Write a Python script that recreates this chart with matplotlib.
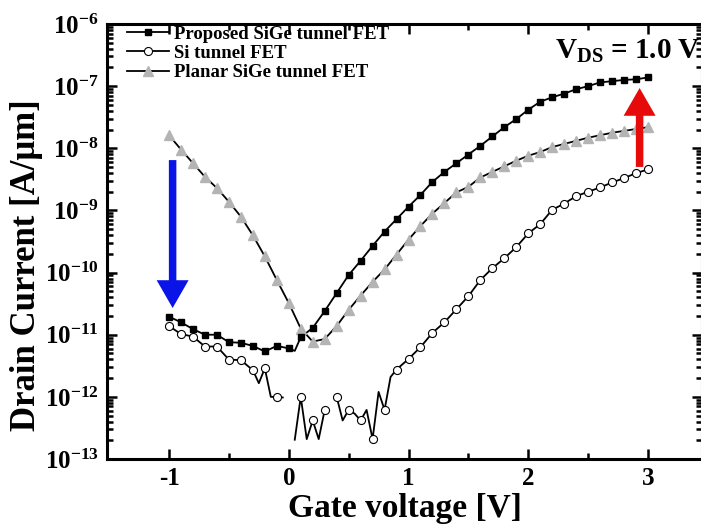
import numpy as np
import matplotlib
matplotlib.use("Agg")
import matplotlib.pyplot as plt

plt.rcParams['font.family'] = ['Liberation Serif', 'DejaVu Serif']
plt.rcParams['font.weight'] = 'bold'
plt.rcParams['mathtext.fontset'] = 'custom'
plt.rcParams['mathtext.rm'] = 'Liberation Serif:bold'
plt.rcParams['mathtext.bf'] = 'Liberation Serif:bold'
plt.rcParams['mathtext.it'] = 'Liberation Serif:bold'
plt.rcParams['axes.unicode_minus'] = False

# ---------------- data (log10 of drain current, A/um) ----------------
prop_v = [-1.0, -0.9, -0.8, -0.7, -0.6, -0.5, -0.4, -0.3, -0.2, -0.1, 0.0, 0.05,
          0.1, 0.2, 0.3, 0.4, 0.5, 0.6, 0.7, 0.8, 0.9, 1.0, 1.1, 1.2, 1.3, 1.4,
          1.5, 1.6, 1.7, 1.8, 1.9, 2.0, 2.1, 2.2, 2.3, 2.4, 2.5, 2.6, 2.7, 2.8,
          2.9, 3.0]
prop_log = [-10.71, -10.80, -10.91, -11.00, -11.00, -11.12, -11.13, -11.18, -11.27,
            -11.18, -11.22, -11.26, -11.04, -10.89, -10.62, -10.33, -10.04, -9.81,
            -9.57, -9.34, -9.14, -8.94, -8.75, -8.54, -8.38, -8.24, -8.10, -7.96,
            -7.81, -7.66, -7.53, -7.38, -7.25, -7.18, -7.12, -7.05, -7.00, -6.94,
            -6.92, -6.90, -6.89, -6.86]
prop_marked = [True] * 11 + [False] + [True] * 30

si_v = [-1.0, -0.9, -0.8, -0.7, -0.6, -0.5, -0.4, -0.3, -0.25, -0.2, -0.15, -0.1,
        -0.05, 0.0, 0.05, 0.1, 0.15, 0.2, 0.25, 0.3, 0.35, 0.4, 0.45, 0.5, 0.55,
        0.6, 0.65, 0.7, 0.75, 0.8, 0.85, 0.9, 1.0, 1.1, 1.2, 1.3, 1.4, 1.5, 1.6,
        1.7, 1.8, 1.9, 2.0, 2.1, 2.2, 2.3, 2.4, 2.5, 2.6, 2.7, 2.8, 2.9, 3.0]
si_log = [-10.86, -10.99, -11.03, -11.19, -11.19, -11.40, -11.41, -11.57, -11.78,
          -11.54, -12.00, -12.00, -12.01, np.nan, -12.69, -12.00, -12.68, -12.38,
          -12.68, -12.21, np.nan, -12.00, -12.38, -12.21, -12.27, -12.38, -12.21,
          -12.68, -11.92, -12.21, -11.68, -11.56, -11.39, -11.20, -10.97, -10.80,
          -10.59, -10.38, -10.12, -9.93, -9.77, -9.59, -9.37, -9.22, -8.99, -8.89,
          -8.77, -8.70, -8.63, -8.55, -8.48, -8.40, -8.34]
si_marked = [True, True, True, True, True, True, True, True, False, True, False, True,
             False, False, False, True, False, True, False, True, False, True, False,
             True, False, True, False, True, False, True, False, True, True, True,
             True, True, True, True, True, True, True, True, True, True, True, True,
             True, True, True, True, True, True, True]

planar_v = [-1.0, -0.9, -0.8, -0.7, -0.6, -0.5, -0.4, -0.3, -0.2, -0.1, 0.0, 0.1,
            0.2, 0.3, 0.4, 0.5, 0.6, 0.7, 0.8, 0.9, 1.0, 1.1, 1.2, 1.3, 1.4, 1.5,
            1.6, 1.7, 1.8, 1.9, 2.0, 2.1, 2.2, 2.3, 2.4, 2.5, 2.6, 2.7, 2.8, 2.9, 3.0]
planar_log = [-7.79, -8.02, -8.24, -8.46, -8.64, -8.86, -9.10, -9.40, -9.74, -10.12,
              -10.49, -10.90, -11.11, -11.07, -10.86, -10.60, -10.37, -10.15, -9.95,
              -9.71, -9.47, -9.25, -9.05, -8.88, -8.71, -8.62, -8.47, -8.38, -8.29,
              -8.20, -8.12, -8.06, -7.98, -7.93, -7.88, -7.83, -7.79, -7.75, -7.72,
              -7.69, -7.66]

labels = ["Proposed SiGe tunnel FET", "Si tunnel FET", "Planar SiGe tunnel FET"]
x_ticks = [-1, 0, 1, 2, 3]
y_exps = [-13, -12, -11, -10, -9, -8, -7, -6]

# arrows: (x, log start, log end)
blue_arrow = (-0.97, -8.19, -10.57)
red_arrow = (2.93, -8.30, -7.03)

# ---------------- figure ----------------
fig = plt.figure(figsize=(7.01, 5.30), dpi=100)
ax = fig.add_axes([107 / 701, 71 / 530, 595 / 701, 435 / 530])

pv = np.array(prop_v); pi = 10.0 ** np.array(prop_log)
sv = np.array(si_v); si = 10.0 ** np.array(si_log)
qv = np.array(planar_v); qi = 10.0 ** np.array(planar_log)

SQ = dict(marker='s', ms=4.8, mfc='black', mec='black')
CI = dict(marker='o', ms=5.8, mfc='white', mec='black', mew=0.8)
TR = dict(marker='^', ms=7.2, mfc='#b4b4b4', mec='#b4b4b4')

# lines
ax.plot(pv, pi, color='black', lw=1.3, zorder=3)
ax.plot(sv, si, color='black', lw=1.3, zorder=3)
ax.plot(qv, qi, color='black', lw=1.3, zorder=2)
# markers
pidx = [i for i, m in enumerate(prop_marked) if m]
sidx = [i for i, m in enumerate(si_marked) if m]
ax.plot(pv[pidx], pi[pidx], ls='none', zorder=4, **SQ)
ax.plot(sv[sidx], si[sidx], ls='none', zorder=4, **CI)
ax.plot(qv, qi, ls='none', zorder=3, **TR)

# legend handles
h1, = ax.plot([], [], color='black', lw=1.3, **SQ)
h2, = ax.plot([], [], color='black', lw=1.3, **CI)
h3, = ax.plot([], [], color='black', lw=1.3, **TR)
leg = ax.legend([h1, h2, h3], labels, loc='upper left', bbox_to_anchor=(0.012, 1.027),
                frameon=False, handlelength=2.2, handletextpad=0.3, labelspacing=0.12,
                borderaxespad=0.3, prop={'family': 'Liberation Serif', 'weight': 'bold', 'size': 13.5})

# arrows
bx, bs, be = blue_arrow
ax.annotate('', xy=(bx, 10 ** be), xytext=(bx, 10 ** bs),
            arrowprops=dict(arrowstyle='simple,head_length=1.0,head_width=1.15,tail_width=0.27',
                            mutation_scale=20, color='#0a14e6', lw=0, shrinkA=0, shrinkB=0),
            zorder=6)
rx, rs, re_ = red_arrow
ax.annotate('', xy=(rx, 10 ** re_), xytext=(rx, 10 ** rs),
            arrowprops=dict(arrowstyle='simple,head_length=1.0,head_width=1.15,tail_width=0.27',
                            mutation_scale=20, color='#e60a0a', lw=0, shrinkA=0, shrinkB=0),
            zorder=6)

# V_DS label
fig.text(0.999, (530 - 59) / 530, r'$\mathbf{V_{DS}}$ = 1.0 V', ha='right', va='baseline',
         fontsize=21, fontweight='bold', family='Liberation Serif')

# axes
ax.set_yscale('log')
ax.set_xlim(-1.518, 3.451)
ax.set_ylim(1e-13, 1e-6)
ax.set_xticks(x_ticks)
ax.set_xticklabels([str(t) for t in x_ticks])
ax.set_xticks([-0.5, 0.5, 1.5, 2.5], minor=True)
ax.set_yticks([10.0 ** e for e in y_exps])
ax.set_yticklabels([r'$\mathbf{10^{%d}}$' % e for e in y_exps])
ax.yaxis.set_minor_locator(matplotlib.ticker.LogLocator(base=10, subs=np.arange(2, 10)))
ax.yaxis.set_minor_formatter(matplotlib.ticker.NullFormatter())

ax.tick_params(axis='both', which='both', direction='in', top=True, right=True, width=1.8)
ax.tick_params(axis='both', which='major', length=7, labelsize=18, pad=6)
ax.tick_params(axis='both', which='minor', length=4)
for lab in ax.get_xticklabels() + ax.get_yticklabels():
    lab.set_fontweight('bold')
for s in ax.spines.values():
    s.set_linewidth(2.2)

ax.set_xlabel('Gate voltage [V]', fontsize=24, fontweight='bold', labelpad=2)
ax.set_ylabel('Drain Current [A/\u03bcm]', fontsize=25, fontweight='bold')
ax.yaxis.set_label_coords(-0.108, 0.445)

fig.savefig('out.png', dpi=100)
